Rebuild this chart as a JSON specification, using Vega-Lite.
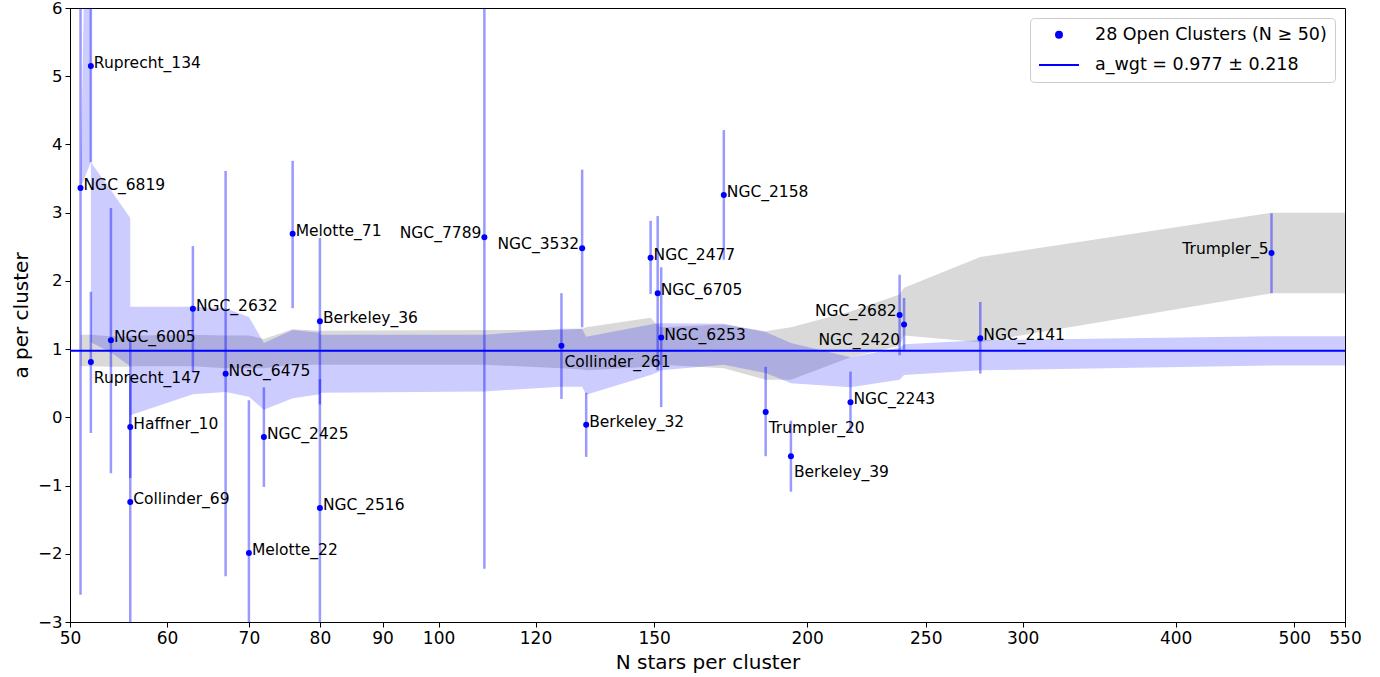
{
  "$schema": "https://vega.github.io/schema/vega-lite/v6.json",
  "width": 1275,
  "height": 614,
  "autosize": {"type": "none"},
  "padding": {"left": 70, "top": 8, "right": 35, "bottom": 55},
  "background": "white",
  "config": {
    "font": "DejaVu Sans",
    "view": {"stroke": "black", "strokeWidth": 1},
    "axis": {"grid": false, "domainColor": "black", "tickColor": "black", "labelColor": "black", "titleColor": "black", "labelFontSize": 17, "titleFontSize": 20, "titleFontWeight": "normal", "tickSize": 5, "labelPadding": 3, "domainWidth": 1, "tickWidth": 1},
    "legend": {"orient": "top-right", "offset": 10, "labelFontSize": 17.5, "labelColor": "black", "strokeColor": "#cccccc", "fillColor": "white", "padding": 8, "cornerRadius": 4, "rowPadding": -10, "labelOffset": 15, "labelLimit": 0, "symbolStrokeColor": "blue", "symbolStrokeWidth": 2}
  },
  "datasets": {
    "clusters": [
      {"name": "NGC_6819", "N": 51, "a": 3.36, "lo": -2.6, "hi": 9.32, "series": "28 Open Clusters (N ≥ 50)"},
      {"name": "Ruprecht_134", "N": 52, "a": 5.15, "lo": 3.74, "hi": 6.56, "series": "28 Open Clusters (N ≥ 50)"},
      {"name": "Ruprecht_147", "N": 52, "a": 0.81, "lo": -0.23, "hi": 1.84, "series": "28 Open Clusters (N ≥ 50)"},
      {"name": "NGC_6005", "N": 54, "a": 1.13, "lo": -0.82, "hi": 3.07, "series": "28 Open Clusters (N ≥ 50)"},
      {"name": "Haffner_10", "N": 56, "a": -0.14, "lo": -0.89, "hi": 0.61, "series": "28 Open Clusters (N ≥ 50)"},
      {"name": "Collinder_69", "N": 56, "a": -1.24, "lo": -3.64, "hi": 1.16, "series": "28 Open Clusters (N ≥ 50)"},
      {"name": "NGC_2632", "N": 63, "a": 1.59, "lo": 0.67, "hi": 2.51, "series": "28 Open Clusters (N ≥ 50)"},
      {"name": "NGC_6475", "N": 67, "a": 0.64, "lo": -2.33, "hi": 3.61, "series": "28 Open Clusters (N ≥ 50)"},
      {"name": "Melotte_22", "N": 70, "a": -1.99, "lo": -4.23, "hi": 0.25, "series": "28 Open Clusters (N ≥ 50)"},
      {"name": "NGC_2425", "N": 72, "a": -0.29, "lo": -1.02, "hi": 0.44, "series": "28 Open Clusters (N ≥ 50)"},
      {"name": "Melotte_71", "N": 76, "a": 2.69, "lo": 1.6, "hi": 3.76, "series": "28 Open Clusters (N ≥ 50)"},
      {"name": "Berkeley_36", "N": 80, "a": 1.41, "lo": 0.19, "hi": 2.63, "series": "28 Open Clusters (N ≥ 50)"},
      {"name": "NGC_2516", "N": 80, "a": -1.33, "lo": -3.22, "hi": 0.56, "series": "28 Open Clusters (N ≥ 50)"},
      {"name": "NGC_7789", "N": 109, "a": 2.64, "lo": -2.22, "hi": 7.5, "series": "28 Open Clusters (N ≥ 50)"},
      {"name": "Collinder_261", "N": 126, "a": 1.05, "lo": 0.27, "hi": 1.82, "series": "28 Open Clusters (N ≥ 50)"},
      {"name": "NGC_3532", "N": 131, "a": 2.48, "lo": 1.32, "hi": 3.63, "series": "28 Open Clusters (N ≥ 50)"},
      {"name": "Berkeley_32", "N": 132, "a": -0.11, "lo": -0.58, "hi": 0.36, "series": "28 Open Clusters (N ≥ 50)"},
      {"name": "NGC_2477", "N": 149, "a": 2.34, "lo": 1.81, "hi": 2.88, "series": "28 Open Clusters (N ≥ 50)"},
      {"name": "NGC_6705", "N": 151, "a": 1.82, "lo": 0.69, "hi": 2.95, "series": "28 Open Clusters (N ≥ 50)"},
      {"name": "NGC_6253", "N": 152, "a": 1.17, "lo": 0.15, "hi": 2.2, "series": "28 Open Clusters (N ≥ 50)"},
      {"name": "NGC_2158", "N": 171, "a": 3.26, "lo": 2.31, "hi": 4.21, "series": "28 Open Clusters (N ≥ 50)"},
      {"name": "Trumpler_20", "N": 185, "a": 0.08, "lo": -0.57, "hi": 0.74, "series": "28 Open Clusters (N ≥ 50)"},
      {"name": "Berkeley_39", "N": 194, "a": -0.57, "lo": -1.09, "hi": -0.05, "series": "28 Open Clusters (N ≥ 50)"},
      {"name": "NGC_2243", "N": 217, "a": 0.22, "lo": -0.23, "hi": 0.67, "series": "28 Open Clusters (N ≥ 50)"},
      {"name": "NGC_2682", "N": 238, "a": 1.5, "lo": 0.91, "hi": 2.09, "series": "28 Open Clusters (N ≥ 50)"},
      {"name": "NGC_2420", "N": 240, "a": 1.36, "lo": 0.99, "hi": 1.75, "series": "28 Open Clusters (N ≥ 50)"},
      {"name": "NGC_2141", "N": 277, "a": 1.16, "lo": 0.64, "hi": 1.69, "series": "28 Open Clusters (N ≥ 50)"},
      {"name": "Trumpler_5", "N": 479, "a": 2.41, "lo": 1.82, "hi": 2.99, "series": "28 Open Clusters (N ≥ 50)"}
    ],
    "bands": [
      {"k": 1, "N": 51, "blo": 3.36, "bhi": 3.36, "glo": 0.75, "ghi": 1.21},
      {"k": 2, "N": 52, "blo": 3.74, "bhi": 12, "glo": 0.75, "ghi": 1.21},
      {"k": 3, "N": 52, "blo": 1.1, "bhi": 3.74, "glo": 0.75, "ghi": 1.21},
      {"k": 4, "N": 54, "blo": 0.95, "bhi": 3.33, "glo": 0.74, "ghi": 1.19},
      {"k": 5, "N": 56, "blo": 0.75, "bhi": 2.92, "glo": 0.74, "ghi": 1.19},
      {"k": 6, "N": 56, "blo": 0.03, "bhi": 1.62, "glo": 0.75, "ghi": 1.2},
      {"k": 7, "N": 63, "blo": 0.34, "bhi": 1.62, "glo": 0.75, "ghi": 1.21},
      {"k": 8, "N": 67, "blo": 0.37, "bhi": 1.6, "glo": 0.72, "ghi": 1.2},
      {"k": 9, "N": 70, "blo": 0.3, "bhi": 1.47, "glo": 0.72, "ghi": 1.2},
      {"k": 10, "N": 72, "blo": 0.11, "bhi": 1.09, "glo": 0.72, "ghi": 1.15},
      {"k": 11, "N": 76, "blo": 0.28, "bhi": 1.28, "glo": 0.77, "ghi": 1.29},
      {"k": 12, "N": 80, "blo": 0.34, "bhi": 1.24, "glo": 0.77, "ghi": 1.27},
      {"k": 13, "N": 80, "blo": 0.36, "bhi": 1.21, "glo": 0.77, "ghi": 1.27},
      {"k": 14, "N": 109, "blo": 0.38, "bhi": 1.21, "glo": 0.77, "ghi": 1.28},
      {"k": 15, "N": 126, "blo": 0.45, "bhi": 1.3, "glo": 0.72, "ghi": 1.28},
      {"k": 16, "N": 131, "blo": 0.45, "bhi": 1.3, "glo": 0.7, "ghi": 1.3},
      {"k": 17, "N": 132, "blo": 0.33, "bhi": 1.18, "glo": 0.69, "ghi": 1.32},
      {"k": 18, "N": 149, "blo": 0.62, "bhi": 1.36, "glo": 0.74, "ghi": 1.46},
      {"k": 19, "N": 151, "blo": 0.66, "bhi": 1.38, "glo": 0.76, "ghi": 1.35},
      {"k": 20, "N": 152, "blo": 0.69, "bhi": 1.38, "glo": 0.77, "ghi": 1.32},
      {"k": 21, "N": 171, "blo": 0.77, "bhi": 1.37, "glo": 0.72, "ghi": 1.36},
      {"k": 22, "N": 185, "blo": 0.65, "bhi": 1.25, "glo": 0.55, "ghi": 1.26},
      {"k": 23, "N": 194, "blo": 0.5, "bhi": 1.09, "glo": 0.55, "ghi": 1.32},
      {"k": 24, "N": 217, "blo": 0.44, "bhi": 0.88, "glo": 0.88, "ghi": 1.55},
      {"k": 25, "N": 238, "blo": 0.55, "bhi": 1.02, "glo": 1.05, "ghi": 1.8},
      {"k": 26, "N": 240, "blo": 0.62, "bhi": 1.07, "glo": 1.2, "ghi": 1.9},
      {"k": 27, "N": 277, "blo": 0.69, "bhi": 1.13, "glo": 1.1, "ghi": 2.35},
      {"k": 28, "N": 479, "blo": 0.76, "bhi": 1.19, "glo": 1.82, "ghi": 3.0},
      {"k": 29, "N": 550, "blo": 0.76, "bhi": 1.19, "glo": 1.82, "ghi": 3.0}
    ]
  },
  "layer": [
    {
      "data": {"name": "bands"},
      "mark": {"type": "area", "color": "gray", "opacity": 0.3, "clip": true},
      "encoding": {
        "x": {"field": "N", "type": "quantitative", "scale": {"type": "log", "domain": [50, 550], "nice": false}, "axis": {"values": [50, 60, 70, 80, 90, 100, 120, 150, 200, 250, 300, 400, 500, 550], "format": "d", "title": "N stars per cluster", "titlePadding": 6, "labelFlush": false}},
        "y": {"field": "glo", "type": "quantitative", "scale": {"domain": [-3, 6], "nice": false}, "axis": {"values": [-3, -2, -1, 0, 1, 2, 3, 4, 5, 6], "format": "d", "title": "a per cluster", "labelExpr": "replace(datum.label, '-', '−')", "titlePadding": 6, "labelFontSize": 16.5}},
        "y2": {"field": "ghi"}
      }
    },
    {
      "data": {"name": "bands"},
      "mark": {"type": "area", "color": "blue", "opacity": 0.2, "clip": true},
      "encoding": {
        "x": {"field": "N", "type": "quantitative"},
        "y": {"field": "blo", "type": "quantitative"},
        "y2": {"field": "bhi"}
      }
    },
    {
      "data": {"name": "clusters"},
      "mark": {"type": "rule", "color": "blue", "opacity": 0.4, "strokeWidth": 2.5, "clip": true},
      "encoding": {
        "x": {"field": "N", "type": "quantitative"},
        "y": {"field": "lo", "type": "quantitative"},
        "y2": {"field": "hi"}
      }
    },
    {
      "data": {"values": [{"a_wgt": 0.977}]},
      "mark": {"type": "rule", "color": "blue", "strokeWidth": 2},
      "encoding": {
        "y": {"field": "a_wgt", "type": "quantitative"}
      }
    },
    {
      "data": {"name": "clusters"},
      "mark": {"type": "point", "filled": true, "opacity": 1},
      "encoding": {
        "x": {"field": "N", "type": "quantitative"},
        "y": {"field": "a", "type": "quantitative"},
        "color": {"field": "series", "type": "nominal", "scale": {"domain": ["28 Open Clusters (N ≥ 50)", "a_wgt = 0.977 ± 0.218"], "range": ["blue", "blue"]}, "legend": {"title": null, "symbolStrokeColor": "blue", "symbolStrokeWidth": 2, "encode": {"symbols": {"update": {"stroke": {"value": "blue"}, "strokeWidth": {"signal": "indexof(datum.value, 'wgt') >= 0 ? 2 : 0"}}}}}},
        "shape": {"field": "series", "type": "nominal", "scale": {"domain": ["28 Open Clusters (N ≥ 50)", "a_wgt = 0.977 ± 0.218"], "range": ["circle", "stroke"]}, "legend": {"title": null, "symbolStrokeColor": "blue", "symbolStrokeWidth": 2, "encode": {"symbols": {"update": {"stroke": {"value": "blue"}, "strokeWidth": {"signal": "indexof(datum.value, 'wgt') >= 0 ? 2 : 0"}}}}}},
        "size": {"field": "series", "type": "nominal", "scale": {"domain": ["28 Open Clusters (N ≥ 50)", "a_wgt = 0.977 ± 0.218"], "range": [36, 1600]}, "legend": {"title": null, "symbolStrokeColor": "blue", "symbolStrokeWidth": 2, "encode": {"symbols": {"update": {"stroke": {"value": "blue"}, "strokeWidth": {"signal": "indexof(datum.value, 'wgt') >= 0 ? 2 : 0"}}}}}}
      }
    },
    {
      "data": {"name": "clusters"},
      "transform": [{"filter": {"not": {"field": "name", "oneOf": ["Ruprecht_147", "Collinder_261", "Trumpler_20", "Berkeley_39", "NGC_7789", "NGC_3532", "NGC_2682", "Trumpler_5", "NGC_2420"]}}}],
      "mark": {"type": "text", "align": "left", "baseline": "middle", "dx": 3, "dy": -3, "fontSize": 15.5, "color": "black"},
      "encoding": {"x": {"field": "N", "type": "quantitative"}, "y": {"field": "a", "type": "quantitative"}, "text": {"field": "name"}}
    },
    {
      "data": {"name": "clusters"},
      "transform": [{"filter": {"field": "name", "oneOf": ["Ruprecht_147", "Collinder_261", "Trumpler_20", "Berkeley_39"]}}],
      "mark": {"type": "text", "align": "left", "baseline": "middle", "dx": 3, "dy": 16, "fontSize": 15.5, "color": "black"},
      "encoding": {"x": {"field": "N", "type": "quantitative"}, "y": {"field": "a", "type": "quantitative"}, "text": {"field": "name"}}
    },
    {
      "data": {"name": "clusters"},
      "transform": [{"filter": {"field": "name", "oneOf": ["NGC_7789", "NGC_3532", "NGC_2682", "Trumpler_5"]}}],
      "mark": {"type": "text", "align": "right", "baseline": "middle", "dx": -3, "dy": -4, "fontSize": 15.5, "color": "black"},
      "encoding": {"x": {"field": "N", "type": "quantitative"}, "y": {"field": "a", "type": "quantitative"}, "text": {"field": "name"}}
    },
    {
      "data": {"name": "clusters"},
      "transform": [{"filter": {"field": "name", "oneOf": ["NGC_2420"]}}],
      "mark": {"type": "text", "align": "right", "baseline": "middle", "dx": -4, "dy": 15, "fontSize": 15.5, "color": "black"},
      "encoding": {"x": {"field": "N", "type": "quantitative"}, "y": {"field": "a", "type": "quantitative"}, "text": {"field": "name"}}
    }
  ]
}
